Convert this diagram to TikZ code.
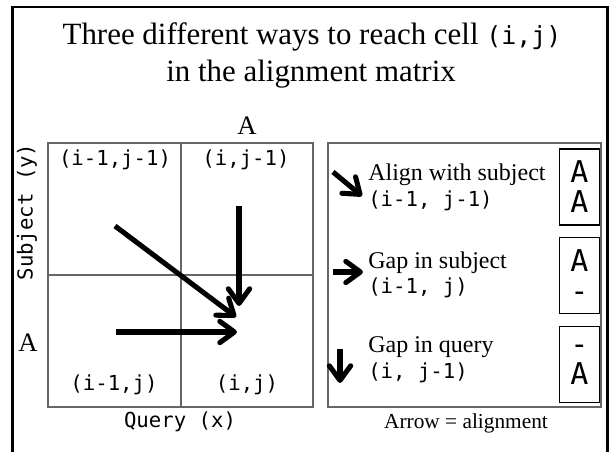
\documentclass[tikz,border=0pt]{standalone}
\usepackage{fontspec}
\setmainfont{Liberation Serif}
\setmonofont{DejaVu Sans Mono}
\usetikzlibrary{arrows.meta}

\tikzset{
  gridline/.style={draw=black!60, line width=1pt},
  move/.style={line width=3.8pt,-{Straight Barb[length=11pt,width=16pt,round]}},
  codelbl/.style={font=\fontsize{15.5}{18}\selectfont\ttfamily},
  txtlbl/.style={font=\fontsize{18}{21}\selectfont},
  seqbox/.style={draw,line width=0.8pt,minimum width=29.5pt,minimum height=57pt,
    inner sep=0pt,align=center,font=\fontsize{22.5}{22.5}\selectfont\ttfamily}
}

\begin{document}
\begin{tikzpicture}[x=0.75pt,y=-0.75pt]
\useasboundingbox (0,0) rectangle (611,452);
% outer frame (runs off the bottom)
\draw[line width=2pt] (12.5,452) -- (12.5,7) -- (607.5,7) -- (607.5,452);

% title
\node[anchor=base,font=\fontsize{23.2}{27}\selectfont] (title1) at (312,45)
  {Three different ways to reach cell {\fontsize{18.7}{22}\selectfont\ttfamily(i,j)}};
\node[anchor=base,font=\fontsize{23.2}{27}\selectfont] (title2) at (311,82)
  {in the alignment matrix};

% alignment matrix
\draw[gridline] (48,143) rectangle (313,407);
\draw[gridline] (181,143) -- (181,407);
\draw[gridline] (48,275) -- (313,275);
\node[codelbl] (ul) at (115,160) {(i-1,j-1)};
\node[codelbl] (ur) at (246,160) {(i,j-1)};
\node[codelbl] (ll) at (114,385) {(i-1,j)};
\node[codelbl] (lr) at (247,385) {(i,j)};
\node[anchor=base,font=\fontsize{20}{24}\selectfont] (qa) at (247,135) {A};
\node[anchor=base,font=\fontsize{20}{24}\selectfont] (sa) at (28,352) {A};
\node[codelbl,rotate=90] (ylab) at (27,212) {Subject (y)};
\node[codelbl] (xlab) at (180,422) {Query (x)};

% the three moves
\coordinate (dstart) at (115,226);
\coordinate (dend) at (236,317);
\coordinate (vstart) at (239,206);
\coordinate (vend) at (239,306);
\coordinate (hstart) at (116,332);
\coordinate (hend) at (237,332);
\draw[move] (dstart) -- (dend);
\draw[move] (vstart) -- (vend);
\draw[move] (hstart) -- (hend);

% legend
\draw[gridline] (328,143) rectangle (601,407);
\coordinate (la1) at (333,172);
\coordinate (la2) at (362,196);
\coordinate (lb1) at (333,272);
\coordinate (lb2) at (363,272);
\coordinate (lc1) at (340,349);
\coordinate (lc2) at (340,383);
\draw[move] (la1) -- (la2);
\draw[move] (lb1) -- (lb2);
\draw[move] (lc1) -- (lc2);
\node[txtlbl,anchor=base west,inner sep=0pt] (diag) at (368,181) {Align with subject};
\node[codelbl,anchor=base west,inner sep=0pt] (diagc) at (368,207) {(i-1, j-1)};
\node[txtlbl,anchor=base west,inner sep=0pt] (horz) at (368,269) {Gap in subject};
\node[codelbl,anchor=base west,inner sep=0pt] (horzc) at (368,294) {(i-1, j)};
\node[txtlbl,anchor=base west,inner sep=0pt] (vert) at (368,353) {Gap in query};
\node[codelbl,anchor=base west,inner sep=0pt] (vertc) at (368,379) {(i, j-1)};
\node[seqbox] (pair1) at (579.5,187) {A\\A};
\node[seqbox] (pair2) at (579.5,275.5) {A\\-};
\node[seqbox] (pair3) at (579.5,364.5) {-\\A};
\node[font=\fontsize{16}{19}\selectfont] (note) at (466,423) {Arrow = alignment};
\end{tikzpicture}
\end{document}
